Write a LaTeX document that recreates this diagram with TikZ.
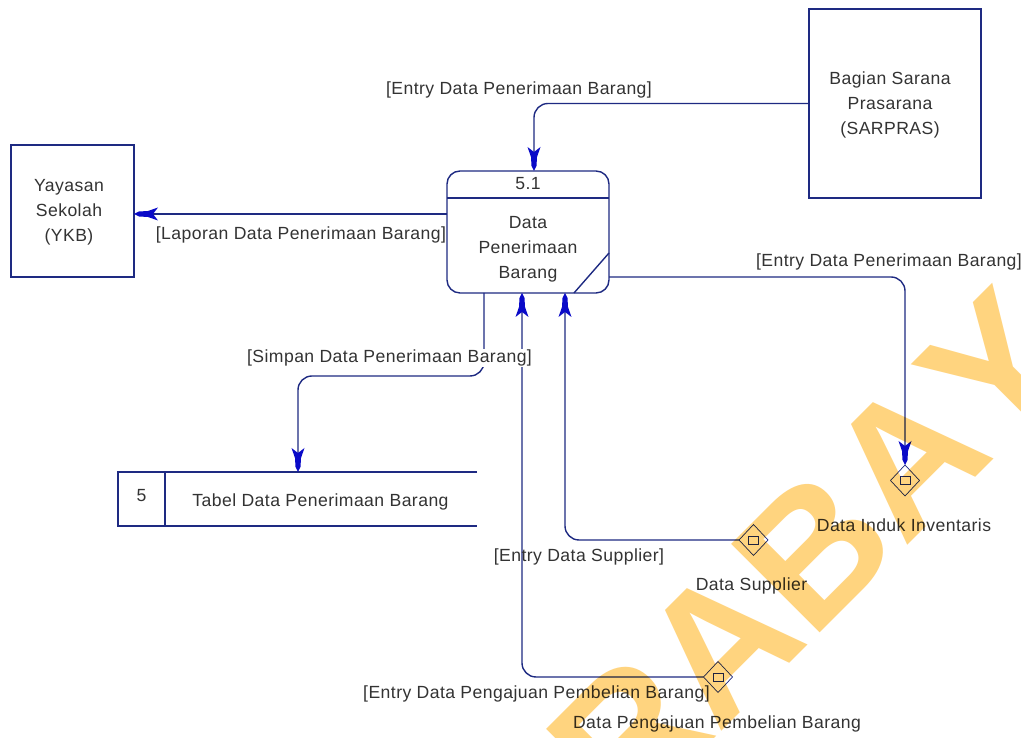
\documentclass[tikz,border=0pt]{standalone}
\usepackage{fontspec}
\setmainfont{Liberation Sans}[LetterSpace=2.5]
\newfontfamily\wmfont{Liberation Sans}[Kerning=Off]
\usetikzlibrary{arrows.meta,shapes.geometric,calc}
\definecolor{wire}{HTML}{1E2A82}
\definecolor{tipblue}{HTML}{0A0AC8}
\definecolor{mark}{HTML}{FFD47F}
\definecolor{ink}{HTML}{333333}
\pgfdeclarearrow{
  name=DfdTip,
  setup code={
    \pgfarrowssettipend{0pt}
    \pgfarrowssetlineend{-4pt}
    \pgfarrowssetvisualbackend{-20pt}
    \pgfarrowssetbackend{-24pt}
    \pgfarrowssavethe\pgfarrowlength
  },
  drawing code={
    \pgfpathmoveto{\pgfqpoint{0pt}{0pt}}
    \pgfpathlineto{\pgfqpoint{-5pt}{2.5pt}}
    \pgfpathlineto{\pgfqpoint{-14pt}{3pt}}
    \pgfpathlineto{\pgfqpoint{-24pt}{6.5pt}}
    \pgfpathlineto{\pgfqpoint{-19pt}{0pt}}
    \pgfpathlineto{\pgfqpoint{-24pt}{-6.5pt}}
    \pgfpathlineto{\pgfqpoint{-14pt}{-3pt}}
    \pgfpathlineto{\pgfqpoint{-5pt}{-2.5pt}}
    \pgfpathclose
    \pgfusepathqfill
  },
  defaults={}
}
\tikzset{
  x=1pt,y=1pt,
  every node/.style={inner sep=0pt,outer sep=0pt},
  wirebox/.style={draw=wire,line width=1.4pt,fill=none},
  flow/.style={draw=wire,line width=1.4pt,rounded corners=14pt,-{DfdTip[color=tipblue]}},
  plain/.style={draw=wire,line width=1.4pt},
  lab/.style={font=\fontsize{17.6}{25}\selectfont,text=ink,align=center},
  store/.style={shape=diamond,draw=wire,line width=0.7pt,minimum width=29pt,minimum height=31pt},
  storemark/.style={draw=wire,line width=0.8pt,minimum width=10pt,minimum height=8pt}
}
\begin{document}
\begin{tikzpicture}
\useasboundingbox (0,0) rectangle (1021,738);
\fill[white] (0,0) rectangle (1021,738);
\node[wirebox,minimum width=162pt,minimum height=122pt,rounded corners=13pt] (proc) at (528,506) {};
\node[wirebox,minimum width=172pt,minimum height=189pt] (sar) at (895,634.5) {};
\node[wirebox,minimum width=123pt,minimum height=132pt] (ykb) at (72.5,527) {};
\node[lab] (sarname) at (890,633) {Bagian Sarana\\Prasarana\\(SARPRAS)};
\node[lab] (ykbname) at (69,526) {Yayasan\\Sekolah\\(YKB)};
\node[lab] (procnum) at (528,554) {5.1};
\node[lab] (procname) at (528,489) {Data\\Penerimaan\\Barang};
\coordinate (hdrL) at (447,540);
\coordinate (hdrR) at (609,540);
\draw[plain] (hdrL) -- (hdrR);
\coordinate (cutA) at (574,445);
\coordinate (cutB) at (609,485);
\draw[plain] (cutA) -- (cutB);
\node[minimum width=359pt,minimum height=54pt] (tbl) at (297.5,239) {};
\draw[plain] (tbl.north east) -- (tbl.north west) -- (tbl.south west) -- (tbl.south east);
\coordinate (tblT) at (165,266);
\coordinate (tblB) at (165,212);
\draw[plain] (tblT) -- (tblB);
\node[lab] (tblnum) at (141.5,242) {5};
\node[lab] (tblname) at (320.5,236) {Tabel Data Penerimaan Barang};
\node[store] (induk) at (905,257.5) {};
\node[storemark] (indukm) at (905,257.5) {};
\node[store] (supp) at (753.5,198) {};
\node[storemark] (suppm) at (753.5,198) {};
\node[store] (peng) at (718,61) {};
\node[storemark] (pengm) at (718,61) {};
\coordinate (ykbIn) at (ykb.east |- 0,524);
\coordinate (procL) at (proc.west |- 0,524);
\coordinate (tblIn) at (298,266);
\draw[flow] (sar.west) -| ([xshift=6pt]proc.north);
\draw[draw=wire,line width=1.4pt,-{DfdTip[color=tipblue]}] (procL) -- (ykbIn);
\draw[flow] ([xshift=-44pt]proc.south) |- (tblIn |- 0,362) -- (tblIn);
\draw[flow] ([yshift=-45pt]proc.east) -| (induk.north);
\draw[flow] (supp.west) -| ([xshift=37pt]proc.south);
\draw[flow] (peng.west) -| ([xshift=-6pt]proc.south);
\node[lab] (l1) at (519,648) {[Entry Data Penerimaan Barang]};
\node[lab] (l2) at (301,503) {[Laporan Data Penerimaan Barang]};
\node[lab,fill=white,inner sep=1pt] (l3) at (389.5,380) {[Simpan Data Penerimaan Barang]};
\node[lab] (l4) at (889,476) {[Entry Data Penerimaan Barang]};
\node[lab] (l5) at (579,181) {[Entry Data Supplier]};
\node[lab] (l6) at (751.5,152) {Data Supplier};
\node[lab] (l7) at (904,213) {Data Induk Inventaris};
\node[lab] (l8) at (536.5,44) {[Entry Data Pengajuan Pembelian Barang]};
\node[lab] (l9) at (717,14) {Data Pengajuan Pembelian Barang};
\begin{scope}[blend mode=multiply]
\clip (0,0) rectangle (1021,738);
\node[rotate=45,anchor=base west,text=mark,font=\wmfont\bfseries\fontsize{182}{182}\selectfont] (watermark) at (626,-89) {RABAY};
\end{scope}
\end{tikzpicture}
\end{document}
